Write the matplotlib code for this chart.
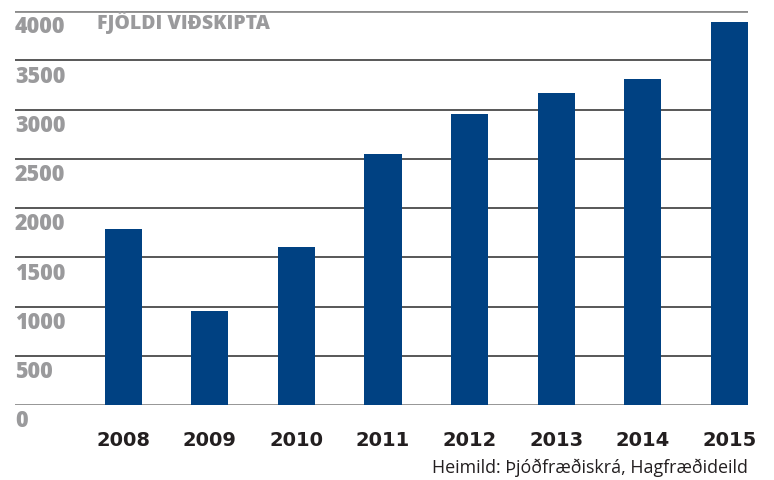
import matplotlib
matplotlib.use("Agg")
import matplotlib.pyplot as plt

years = ["2008", "2009", "2010", "2011", "2012", "2013", "2014", "2015"]
counts = [1790, 955, 1600, 2550, 2955, 3170, 3310, 3890]
yticks = [0, 500, 1000, 1500, 2000, 2500, 3000, 3500, 4000]

BAR = "#004182"
GREY = "#9a9a9c"
plt.rcParams["font.family"] = ["Open Sans", "DejaVu Sans"]

fig = plt.figure(figsize=(7.74, 4.81), dpi=100)
ax = fig.add_axes([15 / 774, 1 - 406 / 481, (748 - 15) / 774, 394 / 481])

x = list(range(len(years)))
ax.bar(x, counts, width=0.43, color=BAR, zorder=3)
ax.set_xlim(-1.25, 7.215)
ax.set_ylim(0, 4000)

# gridlines with the value printed just under each line
for v in yticks:
    col, lw = ("#8c8c8c", 2.0) if v in (0, 4000) else ("#4a4a4a", 1.3)
    ax.axhline(v, color=col, lw=lw, zorder=2)
    ax.annotate(str(v), (0, v), xycoords=("axes fraction", "data"),
                xytext=(0, -2.5), textcoords="offset points", ha="left", va="top",
                fontsize=15.5, fontweight="heavy", color=GREY)

for xi, yr in zip(x, years):
    ax.annotate(yr, (xi, 0), xycoords=("data", "data"), xytext=(0, -18),
                textcoords="offset points", ha="center", va="top",
                fontsize=14, fontweight="bold", color="#231f20",
                family="DejaVu Sans")

fig.text(97 / 774, 1 - 23 / 481, "FJÖLDI VIÐSKIPTA",
         ha="left", va="center", fontsize=14, fontweight="heavy", color=GREY)
fig.text(748 / 774, 1 - 468 / 481, "Heimild: Þjóðfræðiskrá, Hagfræðideild",
         ha="right", va="center", fontsize=12.9, color="#231f20")

ax.axis("off")
fig.savefig("out.png", dpi=100)
